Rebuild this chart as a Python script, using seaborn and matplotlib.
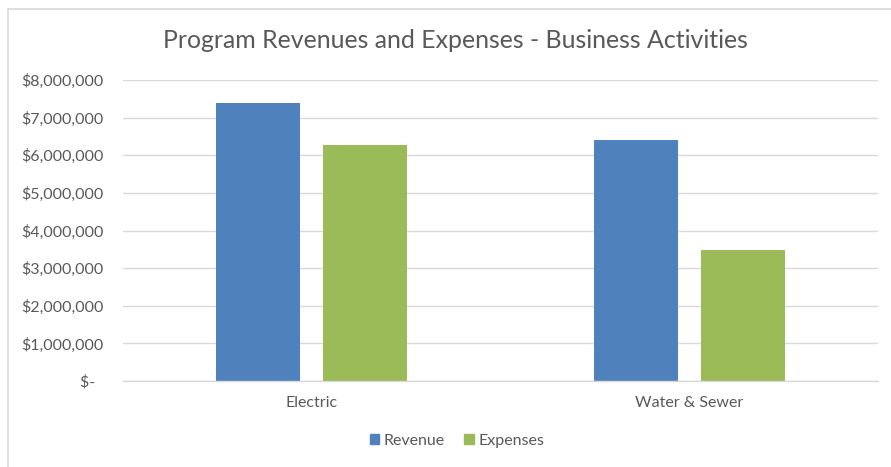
import pandas as pd
import matplotlib.pyplot as plt
import seaborn as sns
from matplotlib.lines import Line2D
from matplotlib.ticker import FuncFormatter

# values
categories = ['Electric', 'Water & Sewer']
revenue = [7400000, 6410000]
expenses = [6280000, 3470000]
series_names = ['Revenue', 'Expenses']
colors = ['#4F81BD', '#9BBB59']
title = 'Program Revenues and Expenses - Business Activities'

df = pd.DataFrame({
    'Category': categories * 2,
    'Series': [series_names[0]] * 2 + [series_names[1]] * 2,
    'Amount': revenue + expenses,
})

sns.set_theme(style='white')
plt.rcParams['font.family'] = ['Lato', 'DejaVu Sans']
text_color = '#595959'

fig = plt.figure(figsize=(8.91, 4.67), dpi=100)
ax = fig.add_axes([123 / 891, 1 - 381 / 467, 755 / 891, 301 / 467])

sns.barplot(data=df, x='Category', y='Amount', hue='Series',
            palette=colors, width=0.568, gap=0.216, ax=ax,
            saturation=1, edgecolor='none', linewidth=0)

ax.set_ylim(0, 8000000)
ax.set_xlim(-0.5, 1.5)
ax.set_yticks(range(0, 8000001, 1000000))
ax.yaxis.set_major_formatter(FuncFormatter(
    lambda v, p: '$-  ' if v == 0 else f'${v:,.0f}'))
ax.grid(axis='y', color='#D9D9D9', linewidth=1)
ax.set_axisbelow(True)
for side in ['top', 'right', 'left']:
    ax.spines[side].set_visible(False)
ax.spines['bottom'].set_color('#D9D9D9')
ax.spines['bottom'].set_linewidth(1)
ax.tick_params(axis='y', length=0, pad=14, labelsize=11.5, labelcolor=text_color)
ax.tick_params(axis='x', length=0, pad=11, labelsize=11.5, labelcolor=text_color)
ax.set_xlabel('')
ax.set_ylabel('')

fig.text(455 / 891, 1 - 41 / 467, title, ha='center', va='center',
         fontsize=17.9, color=text_color)

handles = [plt.Rectangle((0, 0), 1, 1, color=c) for c in colors]
ax.legend(handles, series_names, loc='center', bbox_to_anchor=(457 / 891, 1 - 441 / 467),
          bbox_transform=fig.transFigure, ncol=2, frameon=False, fontsize=11.5,
          handlelength=0.6, handleheight=0.6, handletextpad=0.3, columnspacing=1.2,
          labelcolor=text_color)

# chart area border (only top and left edges show in the crop)
fig.add_artist(Line2D([8 / 891, 1], [1 - 9 / 467] * 2, color='#D9D9D9', linewidth=1.2,
                      transform=fig.transFigure))
fig.add_artist(Line2D([8 / 891] * 2, [0, 1 - 9 / 467], color='#D9D9D9', linewidth=1.2,
                      transform=fig.transFigure))

fig.savefig('out.png', dpi=100)
